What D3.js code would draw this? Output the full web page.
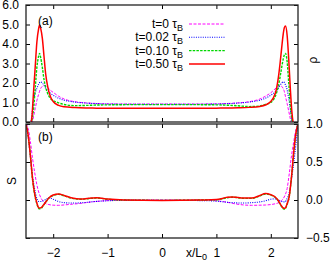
<!DOCTYPE html>
<html>
<head>
<meta charset="utf-8">
<script src="https://cdn.jsdelivr.net/npm/d3@7"></script>
<style>
  body { margin: 0; background: #fff; }
  svg { display: block; font-family: "Liberation Sans", Arial, sans-serif; }
</style>
</head>
<body>
<div id="chart"></div>
<script>
// density panel (a)
const rhoX = [-2.42, -2.39, -2.36, -2.33, -2.30, -2.27, -2.25, -2.23, -2.20, -2.17, -2.14, -2.10, -2.05, -2.0, -1.9, -1.8, -1.6, -1.4, -1.2, -1.0, -0.5, 0,
  0.5, 1.0, 1.2, 1.4, 1.6, 1.8, 1.9, 2.0, 2.05, 2.10, 2.14, 2.17, 2.20, 2.23, 2.25, 2.27, 2.30, 2.33, 2.36, 2.39, 2.42];
const rhoT0 = [-0.3, -0.1, 0.3, 0.7, 1.1, 1.4, 1.58, 1.72, 1.83, 1.88, 1.86, 1.77, 1.62, 1.52, 1.32, 1.18, 1.04, 0.98, 0.95, 0.93, 0.92, 0.92,
  0.92, 0.93, 0.95, 0.98, 1.04, 1.18, 1.32, 1.5, 1.62, 1.76, 1.84, 1.87, 1.83, 1.7, 1.55, 1.3, 0.95, 0.55, 0.15, -0.2, -0.3];
const rhoT002 = [-0.3, 0.4, 1.15, 1.5, 1.73, 1.92, 2.02, 2.06, 2.0, 1.88, 1.73, 1.6, 1.47, 1.37, 1.22, 1.12, 1.02, 0.97, 0.94, 0.92, 0.91, 0.91,
  0.91, 0.92, 0.94, 0.97, 1.02, 1.12, 1.22, 1.37, 1.47, 1.6, 1.73, 1.88, 2.0, 2.06, 2.02, 1.9, 1.65, 1.2, 0.65, 0.1, -0.3];
const rhoT010 = [-0.3, 0.1, 0.7, 1.75, 2.8, 3.35, 3.52, 3.3, 2.8, 2.2, 1.8, 1.45, 1.2, 1.1, 0.98, 0.9, 0.84, 0.85, 0.87, 0.88, 0.89, 0.89,
  0.89, 0.88, 0.86, 0.83, 0.79, 0.82, 0.9, 1.0, 1.15, 1.45, 1.85, 2.3, 2.8, 3.25, 3.45, 3.52, 3.1, 2.0, 0.8, 0.1, -0.3];
const rhoT050 = [-0.2, 0.3, 1.6, 2.85, 4.1, 4.75, 4.97, 4.8, 4.3, 3.4, 2.5, 1.8, 1.3, 1.05, 0.85, 0.78, 0.74, 0.72, 0.71, 0.70, 0.70, 0.70,
  0.70, 0.71, 0.72, 0.73, 0.75, 0.80, 0.87, 1.05, 1.25, 1.65, 2.3, 3.0, 3.8, 4.55, 4.85, 4.92, 4.45, 3.2, 1.65, 0.45, -0.2];

// S panel (b)
const sX = [-2.5, -2.46, -2.42, -2.38, -2.34, -2.30, -2.26, -2.22, -2.18, -2.13, -2.08, -2.0, -1.9, -1.8, -1.65, -1.5, -1.3, -1.2, -1.0, -0.7, 0,
  0.7, 1.0, 1.2, 1.3, 1.5, 1.65, 1.8, 1.9, 2.0, 2.08, 2.13, 2.18, 2.22, 2.26, 2.30, 2.34, 2.38, 2.42, 2.46, 2.5];
const sT0 = [1.0, 0.94, 0.77, 0.55, 0.36, 0.2, 0.09, 0.02, -0.02, -0.05, -0.06, -0.068, -0.07, -0.065, -0.055, -0.045, -0.025, -0.018, -0.008, 0, 0,
  0, -0.01, -0.03, -0.045, -0.065, -0.07, -0.068, -0.066, -0.06, -0.05, -0.04, -0.02, 0.01, 0.06, 0.15, 0.35, 0.58, 0.76, 0.92, 1.0];
const sT002 = [1.0, 0.83, 0.57, 0.32, 0.14, 0.02, -0.02, -0.02, -0.01, 0.01, 0.03, 0.01, -0.02, -0.035, -0.04, -0.037, -0.025, -0.018, -0.01, -0.005, -0.005,
  -0.008, -0.015, -0.03, -0.035, -0.04, -0.035, -0.025, -0.01, 0.01, 0.015, 0.005, -0.01, -0.025, -0.025, 0.02, 0.1, 0.27, 0.48, 0.72, 1.0];
const sT010 = [1.0, 0.85, 0.59, 0.27, 0.07, -0.05, -0.115, -0.11, -0.07, -0.02, 0.025, 0.06, 0.075, 0.055, 0.022, 0.01, 0.022, 0.027, 0.01, 0, -0.005,
  0, 0.004, 0.03, 0.037, 0.022, 0.022, 0.055, 0.078, 0.065, 0.035, -0.005, -0.065, -0.11, -0.12, -0.055, 0.05, 0.3, 0.62, 0.87, 1.0];
const sT050 = [1.0, 0.85, 0.59, 0.28, 0.08, -0.04, -0.105, -0.10, -0.066, -0.02, 0.025, 0.065, 0.08, 0.06, 0.025, 0.012, 0.025, 0.03, 0.012, 0.0, -0.005,
  0.0, 0.005, 0.035, 0.04, 0.025, 0.025, 0.06, 0.085, 0.07, 0.04, 0.0, -0.06, -0.10, -0.11, -0.05, 0.05, 0.3, 0.62, 0.87, 1.0];

const seriesNames = ["t=0", "t=0.02", "t=0.10", "t=0.50"];
const xTicks = [-2, -1, 0, 1, 2];
const rhoTicks = [0, 1, 2, 3, 4, 5, 6];
const sTicks = [-0.5, 0, 0.5, 1];

const styles = [
  { color: "#ff00ff", dash: "3,1.5", w: 1 },
  { color: "#0000ff", dash: "1,1.3", w: 1.1 },
  { color: "#00d800", dash: "2.5,1.2", w: 1.4 },
  { color: "#ff0000", dash: null, w: 1.5 },
];

const width = 332;
const height = 263;

const svg = d3.select("#chart").append("svg")
  .attr("width", width)
  .attr("height", height)
  .attr("viewBox", `0 0 ${width} ${height}`);

const x = d3.scaleLinear().domain([-2.5, 2.5]).range([26, 298]);
const yTop = d3.scaleLinear().domain([0, 6]).range([122, 5]);
const yBot = d3.scaleLinear().domain([-0.5, 1]).range([238, 124]);

const defs = svg.append("defs");
defs.append("clipPath").attr("id", "clipA").append("rect")
  .attr("x", 26).attr("y", 5).attr("width", 272).attr("height", 117);
defs.append("clipPath").attr("id", "clipB").append("rect")
  .attr("x", 26).attr("y", 124).attr("width", 272).attr("height", 114);

function styleAxis(g) {
  g.attr("font-size", 12).attr("font-family", null);
  g.select(".domain").remove();
  g.selectAll(".tick line").attr("stroke", "#000");
  g.selectAll(".tick text").attr("fill", "#000");
}

function drawAxes(y, ticks, top, bottom, labelLeft, labelBottom) {
  const fmt = d3.format(".1f");
  svg.append("g").attr("transform", "translate(26,0)")
    .call(d3.axisLeft(y).tickValues(ticks).tickSize(-4).tickPadding(7)
      .tickFormat(labelLeft ? fmt : ""))
    .call(styleAxis);
  svg.append("g").attr("transform", "translate(298,0)")
    .call(d3.axisRight(y).tickValues(ticks).tickSize(-4).tickPadding(8)
      .tickFormat(labelLeft ? "" : fmt))
    .call(styleAxis);
  svg.append("g").attr("transform", `translate(0,${bottom})`)
    .call(d3.axisBottom(x).tickValues(xTicks).tickSize(-4).tickPadding(10)
      .tickFormat(labelBottom ? d3.format("d") : ""))
    .call(styleAxis);
  svg.append("g").attr("transform", `translate(0,${top})`)
    .call(d3.axisTop(x).tickValues(xTicks).tickSize(-4).tickFormat(""))
    .call(styleAxis);
  svg.append("rect")
    .attr("x", 26).attr("y", top).attr("width", 272).attr("height", bottom - top)
    .attr("fill", "none").attr("stroke", "#222").attr("stroke-width", 1.3);
}

function drawCurves(xs, seriesList, y, clip) {
  const g = svg.append("g").attr("clip-path", `url(#${clip})`);
  seriesList.forEach((vals, i) => {
    const pts = xs.map((d, j) => [d, vals[j]]);
    const line = d3.line().x((d) => x(d[0])).y((d) => y(d[1])).curve(d3.curveMonotoneX);
    g.append("path")
      .datum(pts)
      .attr("fill", "none")
      .attr("stroke", styles[i].color)
      .attr("stroke-width", styles[i].w)
      .attr("stroke-dasharray", styles[i].dash)
      .attr("d", line);
  });
}

drawCurves(rhoX, [rhoT0, rhoT002, rhoT010, rhoT050], yTop, "clipA");
drawCurves(sX, [sT0, sT002, sT010, sT050], yBot, "clipB");

drawAxes(yTop, rhoTicks, 5, 122, true, false);
drawAxes(yBot, sTicks, 124, 238, false, true);

// panel tags
svg.append("text").attr("x", 38).attr("y", 25).attr("font-size", 12).text("(a)");
svg.append("text").attr("x", 38).attr("y", 141).attr("font-size", 12).text("(b)");

// axis titles
svg.append("text")
  .attr("transform", "translate(317,60) rotate(-90)")
  .attr("text-anchor", "middle").attr("font-size", 12).text("ρ");
svg.append("text")
  .attr("transform", "translate(16,181) rotate(-90)")
  .attr("text-anchor", "middle").attr("font-size", 12).text("S");
const xl = svg.append("text").attr("x", 186).attr("y", 257).attr("font-size", 12);
xl.append("tspan").text("x/L");
xl.append("tspan").attr("font-size", 9).attr("dy", 3).text("0");

// legend
const legend = svg.append("g");
seriesNames.forEach((name, i) => {
  const yy = 24 + i * 13.3;
  const t = legend.append("text").attr("x", 183).attr("y", yy + 4)
    .attr("text-anchor", "end").attr("font-size", 12);
  t.append("tspan").text(`${name} τ`);
  t.append("tspan").attr("font-size", 9).attr("dy", 3).text("B");
  legend.append("line")
    .attr("x1", 189).attr("x2", 225).attr("y1", yy).attr("y2", yy)
    .attr("stroke", styles[i].color)
    .attr("stroke-width", styles[i].w)
    .attr("stroke-dasharray", styles[i].dash);
});
</script>
</body>
</html>
